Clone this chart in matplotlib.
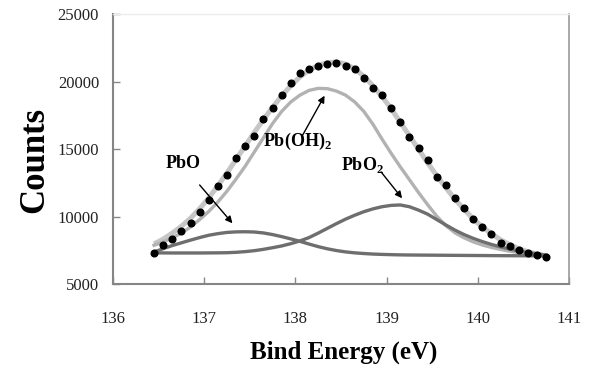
import matplotlib
matplotlib.use("Agg")
import matplotlib.pyplot as plt

plt.rcParams['font.family'] = ['Liberation Serif', 'DejaVu Serif']
plt.rcParams['mathtext.fontset'] = 'custom'
plt.rcParams['mathtext.rm'] = 'Liberation Serif'
plt.rcParams['mathtext.bf'] = 'Liberation Serif:bold'

# ---- data ----
energy = [136.45, 136.55, 136.65, 136.75, 136.85, 136.95, 137.05, 137.15, 137.25, 137.35,
          137.45, 137.55, 137.65, 137.75, 137.85, 137.95, 138.05, 138.15, 138.25, 138.35,
          138.45, 138.55, 138.65, 138.75, 138.85, 138.95, 139.05, 139.15, 139.25, 139.35,
          139.45, 139.55, 139.65, 139.75, 139.85, 139.95, 140.05, 140.15, 140.25, 140.35,
          140.45, 140.55, 140.65, 140.75]

counts_raw = [7351, 7943, 8364, 8956, 9525, 10360, 11248, 12261, 13118, 14375,
              15218, 15980, 17214, 18072, 19011, 19876, 20615, 20960, 21170, 21330,
              21380, 21177, 20920, 20250, 19560, 19040, 18072, 16980, 15928, 15070,
              14180, 12950, 12357, 11418, 10634, 9821, 9250, 8700, 8046, 7847,
              7551, 7351, 7159, 7011]

counts_fit = [8000, 8350, 8800, 9300, 9900, 10600, 11400, 12300, 13250, 14250,
              15250, 16250, 17200, 18100, 18950, 19700, 20350, 20850, 21200, 21400,
              21450, 21300, 20950, 20400, 19700, 18900, 18000, 17000, 16000, 15000,
              14000, 13050, 12150, 11300, 10550, 9850, 9250, 8750, 8300, 7950,
              7650, 7420, 7250, 7120]

counts_pboh2 = [7900, 8150, 8450, 8800, 9250, 9800, 10400, 11100, 11900, 12800,
                13750, 14800, 15850, 16900, 17800, 18500, 19000, 19350, 19500, 19480,
                19300, 19000, 18500, 17800, 16850, 15750, 14700, 13700, 12750, 11800,
                10900, 10050, 9350, 8820, 8450, 8150, 7920, 7740, 7590, 7460,
                7360, 7270, 7200, 7130]

counts_pbo = [7400, 7650, 7880, 8080, 8280, 8470, 8640, 8760, 8850, 8890,
              8900, 8880, 8810, 8690, 8540, 8370, 8190, 7990, 7800, 7640,
              7510, 7410, 7340, 7290, 7250, 7225, 7205, 7190, 7180, 7175,
              7170, 7165, 7160, 7155, 7150, 7145, 7140, 7135, 7130, 7128,
              7125, 7122, 7120, 7118]

counts_pbo2 = [7340, 7335, 7330, 7330, 7330, 7330, 7335, 7340, 7350, 7380,
               7430, 7500, 7600, 7720, 7850, 8020, 8220, 8470, 8800, 9150,
               9500, 9830, 10120, 10380, 10590, 10750, 10850, 10880, 10750, 10500,
               10200, 9800, 9400, 9020, 8690, 8410, 8170, 7960, 7780, 7620,
               7480, 7360, 7260, 7170]

x_ticks = [136, 137, 138, 139, 140, 141]
y_ticks = [5000, 10000, 15000, 20000, 25000]

# ---- figure ----
fig = plt.figure(figsize=(5.9, 3.7), dpi=100)
ax = fig.add_axes([0.1915, 0.2311, 0.7729, 0.7311])

ax.plot(energy, counts_fit, color='#c6c6c6', lw=3.6, solid_capstyle='butt', zorder=2)
ax.plot(energy, counts_pboh2, color='#b2b2b2', lw=2.4, zorder=3)
ax.plot(energy, counts_pbo, color='#6e6e6e', lw=2.4, zorder=3)
ax.plot(energy, counts_pbo2, color='#6e6e6e', lw=2.4, zorder=3)
ax.plot(energy, counts_raw, linestyle='none', marker='o', ms=4.8,
        color='black', zorder=4)

ax.set_xlim(136, 141)
ax.set_ylim(5000, 25000)
ax.set_xticks(x_ticks)
ax.set_yticks(y_ticks)
ax.tick_params(axis='both', direction='in', length=5, width=1, color='#888888',
               labelsize=12, labelcolor='#222222')
ax.tick_params(axis='x', pad=19)
ax.tick_params(axis='y', pad=10)

for side in ['left', 'bottom']:
    ax.spines[side].set_color('#858585')
    ax.spines[side].set_linewidth(1.5)
ax.spines['right'].set_color('#9a9a9a')
ax.spines['right'].set_linewidth(1.2)
ax.spines['top'].set_color('#ececec')
ax.spines['top'].set_linewidth(1.0)

ax.set_xlabel('Bind Energy (eV)', fontsize=18, fontweight='bold', va='center')
ax.xaxis.set_label_coords(0.5055, -0.25)
ax.set_ylabel('Counts', fontsize=25, fontweight='bold', va='center')
ax.yaxis.set_label_coords(-0.171, 0.46)

arrow = dict(arrowstyle='-|>', color='black', lw=1.0, mutation_scale=10,
             shrinkA=0, shrinkB=0)

ax.text(136.77, 13910, 'PbO', fontsize=13, fontweight='bold', ha='center', va='center')
ax.annotate('', xy=(137.31, 9525), xytext=(136.95, 12357), arrowprops=arrow)

ax.text(138.02, 15610, r'Pb(OH)$_\mathbf{2}$', fontsize=13, fontweight='bold',
        ha='center', va='center')
ax.annotate('', xy=(138.32, 18960), xytext=(138.07, 15928), arrowprops=arrow)

ax.text(138.74, 13836, r'PbO$_\mathbf{2}$', fontsize=13, fontweight='bold',
        ha='center', va='center')
ax.annotate('', xy=(139.17, 11373), xytext=(138.94, 13318), arrowprops=arrow)

fig.savefig('out.png', dpi=100)
